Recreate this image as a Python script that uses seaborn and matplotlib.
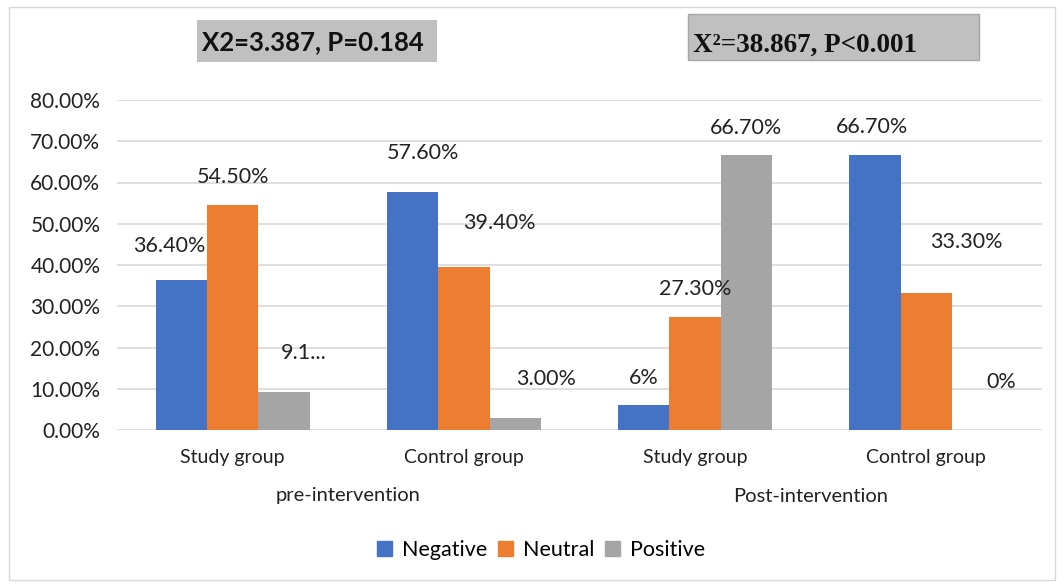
import matplotlib
matplotlib.use("Agg")
import matplotlib.pyplot as plt
import matplotlib.transforms as mtransforms
from matplotlib.patches import Rectangle
from matplotlib.ticker import PercentFormatter
import pandas as pd
import seaborn as sns

# data
phases = ["pre-intervention", "Post-intervention"]
groups = ["Study group", "Control group", "Study group", "Control group"]
sentiments = ["Negative", "Neutral", "Positive"]
negative = [0.364, 0.576, 0.06, 0.667]
neutral = [0.545, 0.394, 0.273, 0.333]
positive = [0.091, 0.030, 0.667, 0.0]
neg_labels = ["36.40%", "57.60%", "6%", "66.70%"]
neu_labels = ["54.50%", "39.40%", "27.30%", "33.30%"]
pos_labels = ["9.1...", "3.00%", "66.70%", "0%"]
stats_pre = "X2=3.387, P=0.184"
stats_post = "X\u00b2=38.867, P<0.001"

# label placement (pixels from bar top centre), like the Excel layout
neg_off = [(-12, 34), (10, 39), (0, 27), (-3, 28)]
neu_off = [(0, 28), (35, 44), (0, 28), (40, 51)]
pos_off = [(20, 39), (31, 39), (0, 27), (24, 48)]

keys = [f"{p}|{g}" for p, g in zip([phases[0]] * 2 + [phases[1]] * 2, groups)]
df = pd.DataFrame({
    "key": keys * 3,
    "Sentiment": [s for s in sentiments for _ in keys],
    "value": negative + neutral + positive,
})

colors = ["#4472C4", "#ED7D31", "#A5A5A5"]
plt.rcParams["font.family"] = ["Lato", "DejaVu Sans"]

W, H = 1062, 585
fig = plt.figure(figsize=(W / 100, H / 100), dpi=100)
ax = fig.add_axes([117 / W, 1 - 430 / H, (1042 - 117) / W, (430 - 100) / H])

sns.barplot(data=df, x="key", y="value", hue="Sentiment", order=keys,
            hue_order=sentiments, palette=colors, width=0.665, gap=0,
            saturation=1, edgecolor="none", ax=ax, legend=False)

ax.set_ylim(0, 0.8)
ax.set_xlim(-0.5, 3.5)
ax.set_yticks([i / 10 for i in range(9)])
ax.yaxis.set_major_formatter(PercentFormatter(1, decimals=2))
ax.grid(axis="y", color="#D9D9D9", lw=1.2)
ax.set_axisbelow(True)
for s in ax.spines.values():
    s.set_visible(False)
ax.tick_params(axis="y", length=0, pad=12, labelsize=15, labelcolor="#222222")
ax.tick_params(axis="x", length=0, pad=14, labelsize=14, labelcolor="#222222")
ax.set_xticks(range(4))
ax.set_xticklabels(groups)
ax.set_xlabel("")
ax.set_ylabel("")

# data labels
for cont, labs, offs in zip(ax.containers, [neg_labels, neu_labels, pos_labels],
                            [neg_off, neu_off, pos_off]):
    for bar, lab, (dx, dy) in zip(cont, labs, offs):
        ax.annotate(lab, (bar.get_x() + bar.get_width() / 2, bar.get_height()),
                    xytext=(dx, dy), textcoords="offset pixels",
                    ha="center", va="center", fontsize=15.5, color="#222222")

# phase labels under the groups
trans = mtransforms.blended_transform_factory(ax.transData, fig.transFigure)
for i, ph in enumerate(phases):
    ax.text(0.5 + 2 * i, 1 - 496 / H, ph, transform=trans, ha="center",
            va="center", fontsize=14.5, color="#222222")

# legend
handles = [Rectangle((0, 0), 1, 1, color=c) for c in colors]
fig.legend(handles, sentiments, loc="center", ncol=3, frameon=False,
           bbox_to_anchor=(541 / W, 1 - 550 / H), fontsize=15.5,
           handlelength=0.7, handleheight=0.7, handletextpad=0.45,
           columnspacing=0.5)

# chi-square boxes
fig.patches.append(Rectangle((197 / W, 1 - 62 / H), 240 / W, 42 / H,
                             transform=fig.transFigure, facecolor="#C0C0C0",
                             edgecolor="none"))
fig.text(202 / W, 1 - 42 / H, stats_pre, ha="left", va="center",
         fontsize=18.5, fontweight="bold", color="#111111")
fig.patches.append(Rectangle((688 / W, 1 - 60 / H), 291 / W, 46 / H,
                             transform=fig.transFigure, facecolor="#C0C0C0",
                             edgecolor="#A6A6A6", lw=1))
fig.text(693 / W, 1 - 45 / H, stats_post, ha="left", va="center",
         fontsize=19.5, fontweight="bold", color="#111111",
         family=["Liberation Serif", "DejaVu Serif"])

# outer chart border
fig.patches.append(Rectangle((9 / W, 1 - 580 / H), 1046 / W, 573 / H,
                             transform=fig.transFigure, facecolor="none",
                             edgecolor="#D9D9D9", lw=1))

fig.savefig("out.png", dpi=100)
